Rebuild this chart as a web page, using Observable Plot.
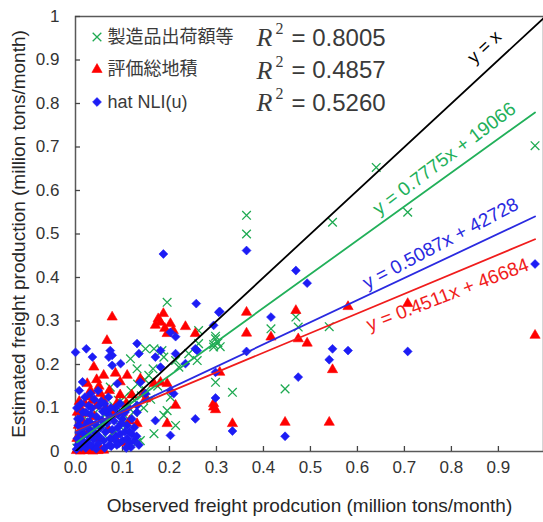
<!DOCTYPE html>
<html>
<head>
<meta charset="utf-8">
<script src="https://cdn.jsdelivr.net/npm/d3@7"></script>
<script src="https://cdn.jsdelivr.net/npm/@observablehq/plot@0.6"></script>
<style>
  html, body { margin: 0; padding: 0; background: #fff; overflow: hidden; }
  #chart { width: 543px; height: 522px; }
</style>
</head>
<body>
<div id="chart"></div>
<script>
// Observed vs. estimated freight production (million tons/month), three estimators.

const xTicks = [0, 0.1, 0.2, 0.3, 0.4, 0.5, 0.6, 0.7, 0.8, 0.9];
const yTicks = [0, 0.1, 0.2, 0.3, 0.4, 0.5, 0.6, 0.7, 0.8, 0.9, 1];

const seriesNames = ["製造品出荷額等", "評価総地積", "hat NLI(u)"];
const r2Values = ["0.8005", "0.4857", "0.5260"];
// Linear fits, y = slope * x + intercept (intercept in tons/month)
const slopes = [0.7775, 0.4511, 0.5087];
const intercepts = [19066, 46684, 42728];

// [observed, estimated] pairs, million tons/month
const shipmentPts = [
  [0.978, 0.703], [0.640, 0.653], [0.707, 0.550], [0.547, 0.527], [0.364, 0.543], [0.364, 0.500],
  [0.469, 0.309], [0.416, 0.282], [0.474, 0.286], [0.540, 0.287], [0.446, 0.144], [0.334, 0.136],
  [0.298, 0.159], [0.298, 0.265], [0.303, 0.250], [0.308, 0.241], [0.294, 0.246],
  [0.195, 0.343], [0.262, 0.278], [0.298, 0.259], [0.294, 0.240], [0.117, 0.213], [0.131, 0.190],
  [0.149, 0.236], [0.167, 0.236], [0.184, 0.232], [0.188, 0.217], [0.213, 0.209], [0.220, 0.194],
  [0.241, 0.225], [0.259, 0.209], [0.262, 0.248], [0.096, 0.056], [0.131, 0.021], [0.167, 0.041],
  [0.188, 0.083], [0.195, 0.094], [0.202, 0.125], [0.213, 0.060], [0.074, 0.148], [0.070, 0.048],
  [0.138, 0.025], [0.150, 0.140], [0.160, 0.120], [0.175, 0.150], [0.145, 0.100], [0.123, 0.090],
  [0.003, 0.008], [0.008, 0.018], [0.012, 0.006], [0.016, 0.028], [0.021, 0.015], [0.025, 0.038],
  [0.030, 0.024], [0.034, 0.050], [0.039, 0.033], [0.043, 0.062], [0.048, 0.041], [0.052, 0.072],
  [0.057, 0.055], [0.062, 0.085], [0.066, 0.064], [0.071, 0.092], [0.076, 0.074], [0.081, 0.105],
  [0.086, 0.082], [0.091, 0.118], [0.097, 0.094], [0.104, 0.125], [0.110, 0.105], [0.118, 0.140],
  [0.125, 0.118], [0.132, 0.155], [0.140, 0.128], [0.148, 0.165], [0.156, 0.175], [0.165, 0.190],
  [0.018, 0.048], [0.028, 0.070], [0.042, 0.090], [0.055, 0.110], [0.068, 0.030], [0.084, 0.045],
  [0.100, 0.060], [0.112, 0.075]
];

const landAreaPts = [
  [0.978, 0.267], [0.707, 0.340], [0.580, 0.333], [0.547, 0.188], [0.540, 0.067], [0.493, 0.249],
  [0.474, 0.259], [0.469, 0.324], [0.446, 0.067], [0.416, 0.263], [0.364, 0.320], [0.364, 0.272],
  [0.334, 0.064], [0.307, 0.182], [0.294, 0.110], [0.298, 0.096], [0.294, 0.102],
  [0.078, 0.309], [0.187, 0.317], [0.170, 0.290], [0.181, 0.297], [0.202, 0.294], [0.234, 0.287],
  [0.195, 0.271], [0.067, 0.255], [0.255, 0.271], [0.176, 0.305], [0.190, 0.283], [0.208, 0.278],
  [0.110, 0.175], [0.138, 0.167], [0.167, 0.156], [0.145, 0.133], [0.149, 0.121], [0.181, 0.159],
  [0.195, 0.156], [0.213, 0.106], [0.195, 0.064], [0.131, 0.064],
  [0.032, 0.140], [0.025, 0.156], [0.039, 0.194], [0.036, 0.117], [0.018, 0.087], [0.053, 0.133],
  [0.002, 0.002], [0.006, 0.004], [0.010, 0.001], [0.014, 0.003], [0.018, 0.002], [0.022, 0.005],
  [0.027, 0.002], [0.032, 0.004], [0.037, 0.001], [0.042, 0.003], [0.048, 0.002], [0.054, 0.004],
  [0.060, 0.003], [0.003, 0.030], [0.006, 0.060], [0.004, 0.090], [0.010, 0.100], [0.008, 0.115],
  [0.015, 0.070], [0.020, 0.110], [0.028, 0.125], [0.040, 0.080], [0.045, 0.105], [0.050, 0.150],
  [0.058, 0.120], [0.065, 0.100], [0.072, 0.140], [0.080, 0.085], [0.088, 0.110], [0.095, 0.130],
  [0.100, 0.090], [0.108, 0.110], [0.115, 0.070], [0.120, 0.130], [0.070, 0.050], [0.085, 0.030],
  [0.100, 0.020], [0.060, 0.175], [0.085, 0.180], [0.095, 0.160], [0.045, 0.165], [0.030, 0.050],
  [0.050, 0.030], [0.012, 0.040]
];

const nliPts = [
  [0.978, 0.431], [0.707, 0.230], [0.580, 0.232], [0.547, 0.236], [0.540, 0.211], [0.493, 0.387],
  [0.469, 0.416], [0.474, 0.171], [0.446, 0.035], [0.416, 0.309], [0.364, 0.462], [0.364, 0.230],
  [0.334, 0.047], [0.307, 0.322], [0.294, 0.290], [0.298, 0.182], [0.298, 0.123],
  [0.187, 0.454], [0.257, 0.340], [0.305, 0.320], [0.202, 0.274], [0.213, 0.264], [0.000, 0.228],
  [0.023, 0.236], [0.036, 0.217], [0.074, 0.232], [0.078, 0.221], [0.071, 0.217], [0.078, 0.198],
  [0.096, 0.202], [0.131, 0.248], [0.135, 0.225], [0.170, 0.217], [0.181, 0.232], [0.181, 0.194],
  [0.213, 0.225], [0.234, 0.202], [0.255, 0.236], [0.259, 0.232],
  [0.131, 0.106], [0.131, 0.090], [0.138, 0.159], [0.149, 0.133], [0.170, 0.071], [0.202, 0.140],
  [0.209, 0.133], [0.202, 0.037], [0.255, 0.075], [0.089, 0.156], [0.032, 0.133], [0.085, 0.025],
  [0.092, 0.018],
  [0.002, 0.005], [0.005, 0.015], [0.004, 0.030], [0.008, 0.045], [0.006, 0.060], [0.010, 0.075],
  [0.012, 0.010], [0.015, 0.025], [0.018, 0.040], [0.020, 0.058], [0.016, 0.090], [0.022, 0.008],
  [0.025, 0.020], [0.028, 0.035], [0.030, 0.050], [0.026, 0.068], [0.032, 0.085], [0.035, 0.012],
  [0.038, 0.028], [0.040, 0.045], [0.042, 0.062], [0.045, 0.080], [0.048, 0.018], [0.050, 0.035],
  [0.053, 0.055], [0.056, 0.072], [0.058, 0.092], [0.060, 0.025], [0.064, 0.045], [0.067, 0.065],
  [0.070, 0.085], [0.074, 0.030], [0.078, 0.050], [0.082, 0.070], [0.086, 0.035], [0.090, 0.055],
  [0.095, 0.040], [0.100, 0.025], [0.105, 0.045], [0.110, 0.030], [0.115, 0.020], [0.120, 0.040],
  [0.125, 0.025], [0.130, 0.035], [0.012, 0.110], [0.020, 0.125], [0.008, 0.140], [0.028, 0.105],
  [0.040, 0.120], [0.050, 0.105], [0.062, 0.110], [0.070, 0.125], [0.015, 0.160], [0.048, 0.140],
  [0.085, 0.100], [0.100, 0.075], [0.110, 0.060], [0.118, 0.010], [0.135, 0.015], [0.108, 0.008],
  [0.062, 0.008], [0.044, 0.006], [0.076, 0.012],
  [0.055, 0.115], [0.065, 0.095], [0.075, 0.100], [0.090, 0.085], [0.095, 0.110], [0.105, 0.090],
  [0.112, 0.100], [0.120, 0.075], [0.125, 0.055], [0.115, 0.045], [0.098, 0.065], [0.088, 0.015],
  [0.072, 0.015], [0.035, 0.100], [0.022, 0.090], [0.030, 0.068], [0.012, 0.055], [0.005, 0.075],
  [0.003, 0.100], [0.018, 0.020]
];

const colors = ["#1faa52", "#ff0000", "#1c1cf5"];
const lineColors = ["#22b05a", "#f01c1c", "#2a2ae0"];
const symbols = ["times", "triangle", "diamond2"];
const radii = [4, 3.8, 4];
const pointSets = [shipmentPts, landAreaPts, nliPts];

// Equation label placement: centre on the fitted line at x, then shifted vertically (px)
const eqLabelX = [0.785, 0.792, 0.777];
const eqLabelDy = [-19, 19, -17.5];
const eqLabelRotate = [-37, -21, -28];

const W = 543, H = 522;
const mTop = 16, mBottom = 71, mLeft = 75, mRight = 0;
const xMax = 0.996;

const fmtX = d => d.toFixed(1);
const fmtY = d => (d === 0 || d === 1) ? String(d) : d.toFixed(1);
const fmtEq = (m, b) => `y = ${m.toFixed(4)}x + ${b}`;

const rows = pointSets.map(pts => pts.map(([x, y]) => ({x, y})));
const fits = slopes.map((m, i) => {
  const xs = pointSets[i].map(p => p[0]);
  const b = intercepts[i] / 1e6;
  return [d3.min(xs), d3.max(xs)].map(x => ({x, y: m * x + b}));
});

const sansFont = "'Liberation Sans', Arial, sans-serif";
const cjkFont = "'Liberation Sans', 'Noto Sans CJK JP', sans-serif";
const serifFont = "'Liberation Serif', 'DejaVu Serif', serif";

const marks = [
  Plot.frame({stroke: "#595959", strokeWidth: 1.5}),
  Plot.axisX(xTicks, {tickSize: -5, tickPadding: 14, tickFormat: fmtX, fontSize: 17, fill: "#333", stroke: "#444", strokeWidth: 1.3, label: null}),
  Plot.axisY(yTicks, {tickSize: -5, tickPadding: 21, tickFormat: fmtY, fontSize: 17, fill: "#333", stroke: "#444", strokeWidth: 1.3, label: null}),
  Plot.text(["Observed freight prodcution (million tons/month)"], {frameAnchor: "bottom", dy: 54, textAnchor: "middle", lineAnchor: "middle", fontSize: 19, fill: "#262626"}),
  Plot.text(["Estimated freight production (million tons/month)"], {frameAnchor: "left", dx: -57, rotate: -90, textAnchor: "middle", lineAnchor: "middle", fontSize: 19, fill: "#262626"})
];

rows.forEach((data, i) => {
  const filled = symbols[i] !== "times";
  marks.push(Plot.dot(data, {
    x: "x", y: "y", symbol: () => symbols[i], r: radii[i],
    fill: filled ? colors[i] : "none",
    stroke: colors[i], strokeWidth: filled ? 0.6 : 1.3
  }));
});

// 1:1 reference line and fitted lines
marks.push(Plot.line([{x: 0, y: 0}, {x: 1, y: 1}], {x: "x", y: "y", stroke: "#000", strokeWidth: 1.8, clip: true}));
fits.forEach((f, i) => {
  marks.push(Plot.line(f, {x: "x", y: "y", stroke: lineColors[i], strokeWidth: 1.8}));
});

// Line labels
marks.push(Plot.text([{x: 0.870, y: 0.870}], {x: "x", y: "y", text: () => "y = x", dy: -26, rotate: -43, fontSize: 18, fill: "#000", fontFamily: sansFont}));
slopes.forEach((m, i) => {
  const xc = eqLabelX[i];
  marks.push(Plot.text([{x: xc, y: m * xc + intercepts[i] / 1e6}], {
    x: "x", y: "y", text: () => fmtEq(m, intercepts[i]), dy: eqLabelDy[i], rotate: eqLabelRotate[i],
    fontSize: 19, fill: lineColors[i], fontFamily: sansFont
  }));
});

// Legend and R² column inside the plot area
seriesNames.forEach((name, i) => {
  const rowDy = 20.5 + 32.5 * i;
  const filled = symbols[i] !== "times";
  marks.push(Plot.dot([name], {
    frameAnchor: "top-left", dx: 21.5, dy: rowDy, symbol: () => symbols[i], r: radii[i],
    fill: filled ? colors[i] : "none", stroke: colors[i], strokeWidth: filled ? 0.6 : 1.3
  }));
  marks.push(Plot.text([name], {
    frameAnchor: "top-left", dx: 32, dy: rowDy, textAnchor: "start", lineAnchor: "middle", fontSize: 18,
    fill: "#3a3a3a", fontFamily: cjkFont
  }));
  marks.push(Plot.text(["R"], {
    frameAnchor: "top-left", dx: 181, dy: rowDy + 1, textAnchor: "start", lineAnchor: "middle", fontSize: 26,
    fontStyle: "italic", fill: "#3a3a3a", fontFamily: serifFont
  }));
  marks.push(Plot.text(["2"], {
    frameAnchor: "top-left", dx: 200, dy: rowDy - 8, textAnchor: "start", lineAnchor: "middle", fontSize: 16,
    fill: "#3a3a3a", fontFamily: serifFont
  }));
  marks.push(Plot.text([`= ${r2Values[i]}`], {
    frameAnchor: "top-left", dx: 216, dy: rowDy + 1, textAnchor: "start", lineAnchor: "middle", fontSize: 24,
    fill: "#3a3a3a", fontFamily: sansFont
  }));
});

const chart = Plot.plot({
  width: W, height: H,
  marginTop: mTop, marginBottom: mBottom, marginLeft: mLeft, marginRight: mRight,
  x: {domain: [0, xMax]},
  y: {domain: [0, 1]},
  style: {fontFamily: sansFont, background: "#fff", overflow: "visible"},
  marks
});

document.getElementById("chart").append(chart);
</script>
</body>
</html>
